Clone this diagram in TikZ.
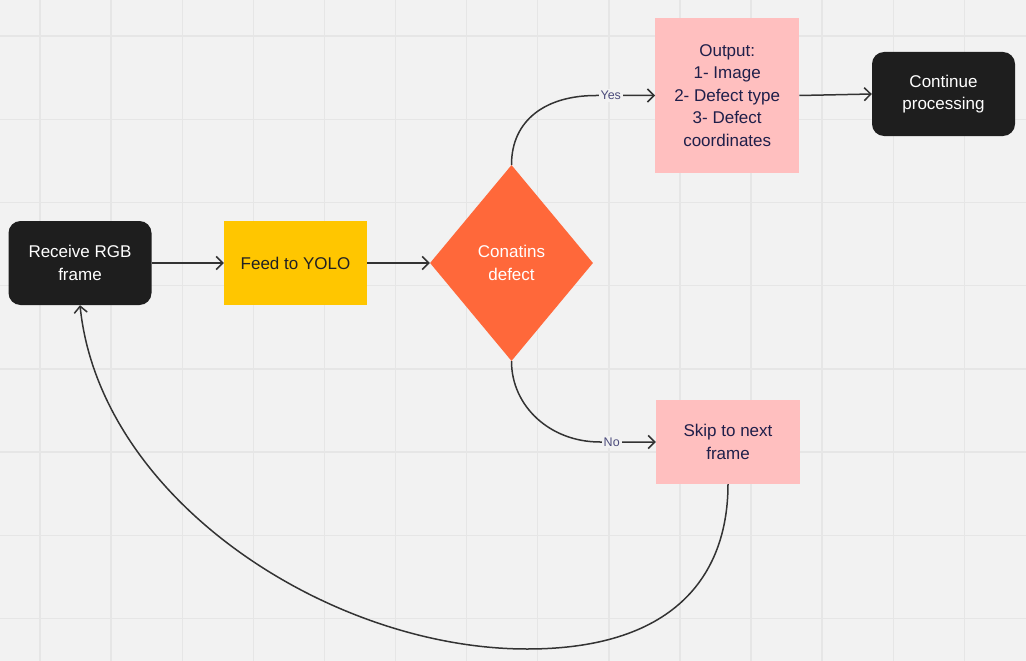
\documentclass[tikz,border=0pt]{standalone}
\usepackage{fontspec}
\setmainfont{Liberation Sans}
\usetikzlibrary{shapes.geometric,arrows.meta}
\definecolor{bg}{HTML}{F2F2F2}
\definecolor{gridc}{HTML}{E6E6E6}
\definecolor{nodeblack}{HTML}{1E1E1E}
\definecolor{pinkc}{HTML}{FFBFBF}
\definecolor{yellowc}{HTML}{FFC600}
\definecolor{orangec}{HTML}{FF683A}
\definecolor{navy}{HTML}{1F1F4A}
\definecolor{darktext}{HTML}{202024}
\definecolor{linec}{HTML}{333333}
\definecolor{lblc}{HTML}{4C4C7C}
\begin{document}
\begin{tikzpicture}[x=1pt,y=-1pt,
  txt/.style={font=\fontsize{17}{22.5}\selectfont, align=center},
  blackbox/.style={txt, fill=nodeblack, text=white, rounded corners=12pt, minimum width=143pt, minimum height=84pt, inner sep=0pt},
  sqbox/.style={txt, minimum width=143pt, minimum height=84pt, inner sep=0pt},
  decision/.style={diamond, txt, fill=orangec, text=white, minimum width=163pt, minimum height=196pt, inner sep=0pt},
  conn/.style={draw=linec, line width=1.5pt, -{Straight Barb[length=6.5pt,width=13pt]}},
  lbl/.style={fill=bg, text=lblc, font=\fontsize{12.5}{14}\selectfont, inner sep=2pt}
]
\fill[bg] (0,0) rectangle (1026,661);
\useasboundingbox (0,0) rectangle (1026,661);
\foreach \i in {0,...,13} \draw[gridc, line width=1.4pt] ({40+71.1*\i},0) -- ++(0,661);
\foreach \j in {0,...,7} \draw[gridc, line width=1.4pt] (0,{36+83.2*\j}) -- ++(1026,0);

\node[blackbox] (rgb) at (80,263) {Receive RGB\\frame};
\node[sqbox, fill=yellowc, text=darktext] (feed) at (295.5,263) {Feed to YOLO};
\node[decision] (dia) at (511.5,263) {Conatins\\defect};
\node[sqbox, fill=pinkc, text=navy, minimum width=144pt, minimum height=154pt] (out) at (727.2,95.5) {Output:\\1- Image\\2- Defect type\\3- Defect\\coordinates};
\node[blackbox] (cont) at (943.5,94) {Continue\\processing};
\node[sqbox, fill=pinkc, text=navy, minimum width=144pt] (skip) at (728,442) {Skip to next\\frame};

\coordinate (yesc) at (596,95.5);
\coordinate (noc) at (600,442);
\coordinate (bot) at (527,649);

\draw[conn] (rgb) -- (feed);
\draw[conn] (feed) -- (dia);
\draw[conn] (dia.north) .. controls +(0,-45) and +(-50,0) .. (yesc) -- node[lbl,pos=0.25]{Yes} (out.west);
\draw[conn] (out.east) -- (cont.west);
\draw[conn] (dia.south) .. controls +(0,45) and +(-50,0) .. (noc) -- node[lbl,pos=0.21]{No} (skip.west);
\draw[conn] (skip.south) .. controls (728,570) and (680,649) .. (bot) .. controls (330,649) and (100,500) .. (rgb.south);
\end{tikzpicture}
\end{document}
